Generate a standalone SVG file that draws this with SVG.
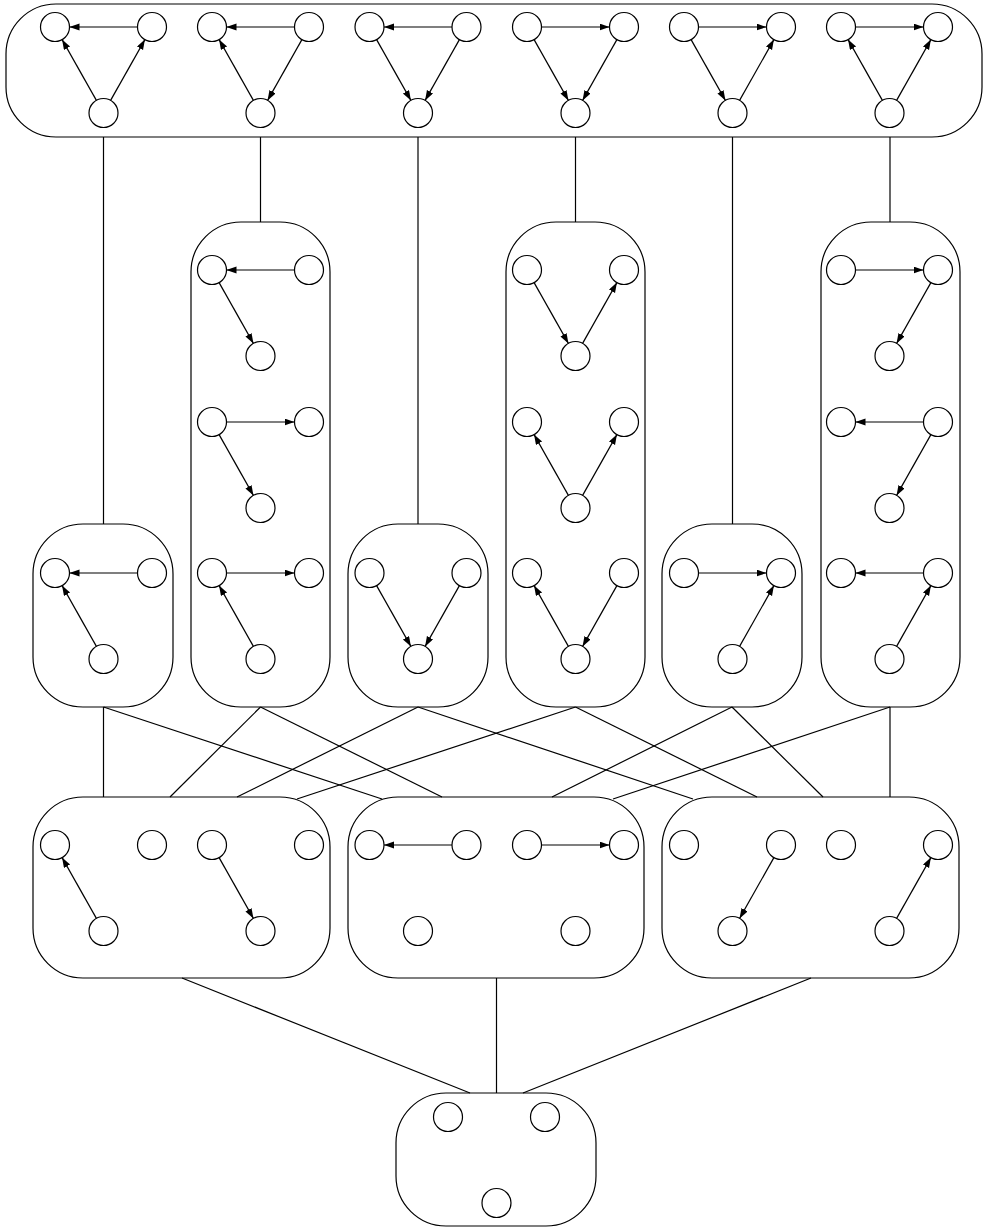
<svg xmlns="http://www.w3.org/2000/svg" width="984" height="1229" viewBox="0 0 984 1229">
<style>
.box{fill:none;stroke:#000;stroke-width:1.2}
.n{fill:#fff;stroke:#000;stroke-width:1.2}
.e{fill:none;stroke:#000;stroke-width:1.2;marker-end:url(#ah)}
.c{fill:none;stroke:#000;stroke-width:1.2}
</style>
<defs>
<marker id="ah" markerUnits="userSpaceOnUse" markerWidth="10" markerHeight="8" refX="10" refY="3.5" orient="auto">
<path d="M0,0 L10,3.5 L0,7 z" fill="#000"/>
</marker>
<g id="nodes3">
<circle class="n" cx="0" cy="0" r="14.5"/>
<circle class="n" cx="97" cy="0" r="14.5"/>
<circle class="n" cx="48.5" cy="86" r="14.5"/>
</g>
<line id="LR" class="e" x1="14.5" y1="0" x2="82.5" y2="0"/>
<line id="RL" class="e" x1="82.5" y1="0" x2="14.5" y2="0"/>
<line id="LB" class="e" x1="7.1" y1="12.6" x2="41.4" y2="73.4"/>
<line id="BL" class="e" x1="41.4" y1="73.4" x2="7.1" y2="12.6"/>
<line id="RB" class="e" x1="89.9" y1="12.6" x2="55.6" y2="73.4"/>
<line id="BR" class="e" x1="55.6" y1="73.4" x2="89.9" y2="12.6"/>
</defs>
<rect x="0" y="0" width="984" height="1229" fill="#fff"/>

<g id="connectors">
<line class="c" x1="103.5" y1="137" x2="103.5" y2="524"/>
<line class="c" x1="260.5" y1="137" x2="260.5" y2="222"/>
<line class="c" x1="418" y1="137" x2="418" y2="524"/>
<line class="c" x1="575.5" y1="137" x2="575.5" y2="222"/>
<line class="c" x1="732.5" y1="137" x2="732.5" y2="524"/>
<line class="c" x1="890" y1="137" x2="890" y2="222"/>

<line class="c" x1="103.5" y1="707" x2="103.5" y2="797"/>
<line class="c" x1="103.5" y1="707" x2="382" y2="799"/>
<line class="c" x1="260.5" y1="707" x2="170" y2="797"/>
<line class="c" x1="260.5" y1="707" x2="442" y2="797"/>
<line class="c" x1="418" y1="707" x2="237" y2="797"/>
<line class="c" x1="418" y1="707" x2="693" y2="799"/>
<line class="c" x1="575.5" y1="707" x2="297" y2="799"/>
<line class="c" x1="575.5" y1="707" x2="757" y2="797"/>
<line class="c" x1="732" y1="707" x2="552" y2="797"/>
<line class="c" x1="732" y1="707" x2="823" y2="797"/>
<line class="c" x1="890" y1="707" x2="613" y2="799"/>
<line class="c" x1="890" y1="707" x2="890" y2="797"/>

<line class="c" x1="182" y1="978" x2="470" y2="1093"/>
<line class="c" x1="496.5" y1="978" x2="496.5" y2="1093"/>
<line class="c" x1="811" y1="978" x2="523" y2="1093"/>
</g>

<g id="top">
<rect class="box" x="6" y="4" width="976" height="133" rx="50" ry="50"/>
<g id="t1" transform="translate(55,27)"><use href="#nodes3"/><use href="#RL"/><use href="#BL"/><use href="#BR"/></g>
<g id="t2" transform="translate(212,27)"><use href="#nodes3"/><use href="#RL"/><use href="#BL"/><use href="#RB"/></g>
<g id="t3" transform="translate(369.5,27)"><use href="#nodes3"/><use href="#RL"/><use href="#LB"/><use href="#RB"/></g>
<g id="t4" transform="translate(527,27)"><use href="#nodes3"/><use href="#LR"/><use href="#LB"/><use href="#RB"/></g>
<g id="t5" transform="translate(684,27)"><use href="#nodes3"/><use href="#LR"/><use href="#LB"/><use href="#BR"/></g>
<g id="t6" transform="translate(841,27)"><use href="#nodes3"/><use href="#LR"/><use href="#BL"/><use href="#BR"/></g>
</g>

<g id="midA">
<rect class="box" x="33" y="524" width="140" height="183" rx="50" ry="50"/>
<g transform="translate(55,573)"><use href="#nodes3"/><use href="#RL"/><use href="#BL"/></g>
</g>
<g id="midB">
<rect class="box" x="191" y="222" width="139" height="485" rx="50" ry="50"/>
<g transform="translate(212,270)"><use href="#nodes3"/><use href="#RL"/><use href="#LB"/></g>
<g transform="translate(212,422)"><use href="#nodes3"/><use href="#LR"/><use href="#LB"/></g>
<g transform="translate(212,573)"><use href="#nodes3"/><use href="#LR"/><use href="#BL"/></g>
</g>
<g id="midC">
<rect class="box" x="348" y="524" width="140" height="183" rx="50" ry="50"/>
<g transform="translate(369.5,573)"><use href="#nodes3"/><use href="#LB"/><use href="#RB"/></g>
</g>
<g id="midD">
<rect class="box" x="506" y="222" width="139" height="485" rx="50" ry="50"/>
<g transform="translate(527,270)"><use href="#nodes3"/><use href="#LB"/><use href="#BR"/></g>
<g transform="translate(527,422)"><use href="#nodes3"/><use href="#BL"/><use href="#BR"/></g>
<g transform="translate(527,573)"><use href="#nodes3"/><use href="#BL"/><use href="#RB"/></g>
</g>
<g id="midE">
<rect class="box" x="662" y="524" width="140" height="183" rx="50" ry="50"/>
<g transform="translate(684,573)"><use href="#nodes3"/><use href="#LR"/><use href="#BR"/></g>
</g>
<g id="midF">
<rect class="box" x="821" y="222" width="139" height="485" rx="50" ry="50"/>
<g transform="translate(841,270)"><use href="#nodes3"/><use href="#LR"/><use href="#RB"/></g>
<g transform="translate(841,422)"><use href="#nodes3"/><use href="#RL"/><use href="#RB"/></g>
<g transform="translate(841,573)"><use href="#nodes3"/><use href="#RL"/><use href="#BR"/></g>
</g>

<g id="botG">
<rect class="box" x="33" y="797" width="297" height="181" rx="50" ry="50"/>
<g transform="translate(55,845)"><use href="#nodes3"/><use href="#BL"/></g>
<g transform="translate(212,845)"><use href="#nodes3"/><use href="#LB"/></g>
</g>
<g id="botH">
<rect class="box" x="348" y="797" width="296" height="181" rx="50" ry="50"/>
<g transform="translate(369.5,845)"><use href="#nodes3"/><use href="#RL"/></g>
<g transform="translate(527,845)"><use href="#nodes3"/><use href="#LR"/></g>
</g>
<g id="botI">
<rect class="box" x="662" y="797" width="297" height="181" rx="50" ry="50"/>
<g transform="translate(684,845)"><use href="#nodes3"/><use href="#RB"/></g>
<g transform="translate(841,845)"><use href="#nodes3"/><use href="#BR"/></g>
</g>

<g id="empty">
<rect class="box" x="396" y="1093" width="200" height="133" rx="50" ry="50"/>
<g transform="translate(448,1117)"><use href="#nodes3"/></g>
</g>
</svg>
